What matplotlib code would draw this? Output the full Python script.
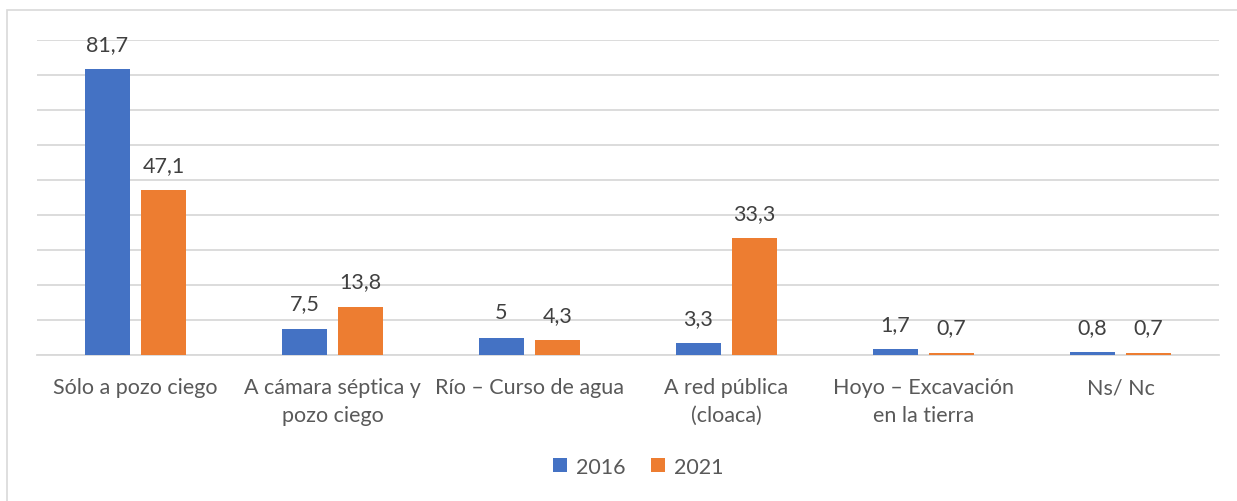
import matplotlib.pyplot as plt
import numpy as np
from matplotlib.patches import Rectangle

categorias = ["Sólo a pozo ciego", "A cámara séptica y\npozo ciego", "Río – Curso de agua",
              "A red pública\n(cloaca)", "Hoyo – Excavación\nen la tierra", "Ns/ Nc"]
valores_2016 = [81.7, 7.5, 5, 3.3, 1.7, 0.8]
valores_2021 = [47.1, 13.8, 4.3, 33.3, 0.7, 0.7]
etiquetas_2016 = ["81,7", "7,5", "5", "3,3", "1,7", "0,8"]
etiquetas_2021 = ["47,1", "13,8", "4,3", "33,3", "0,7", "0,7"]

plt.rcParams['font.family'] = ['Lato', 'DejaVu Sans']
gris = "#595959"

fig = plt.figure(figsize=(12.37, 5.02), dpi=100)
ax = fig.add_axes([0.0299, 0.2908, 0.9555, 0.6275])

x = np.arange(len(categorias))
ancho = 0.225
desp = 0.142
b1 = ax.bar(x - desp, valores_2016, ancho, color="#4472C4", label="2016", zorder=3)
b2 = ax.bar(x + desp, valores_2021, ancho, color="#ED7D31", label="2021", zorder=3)

# etiquetas de valor encima de cada barra
for barras, etiquetas in ((b1, etiquetas_2016), (b2, etiquetas_2021)):
    for b, t in zip(barras, etiquetas):
        ax.annotate(t, (b.get_x() + b.get_width() / 2, b.get_height()),
                    xytext=(0, 11), textcoords="offset points",
                    ha="center", va="bottom", fontsize=15.5, color="#404040")

ax.set_xlim(-0.5, len(categorias) - 0.5)
ax.set_ylim(0, 90)
ax.set_yticks(np.arange(0, 91, 10))
ax.set_yticklabels([])
ax.yaxis.grid(True, color="#d9d9d9", linewidth=1.3, zorder=0)
ax.tick_params(axis="y", length=0)
ax.tick_params(axis="x", length=0, pad=16, labelsize=15.5, labelcolor=gris)
ax.set_xticks(x)
ax.set_xticklabels(categorias, linespacing=1.5)
for s in ["top", "right", "left"]:
    ax.spines[s].set_visible(False)
ax.spines["bottom"].set_color("#d9d9d9")
ax.spines["bottom"].set_linewidth(1.3)

fig.legend(handles=[b1, b2], labels=["2016", "2021"], loc="center",
           bbox_to_anchor=(0.516, 0.068), ncol=2, frameon=False, fontsize=15.5,
           handlelength=0.65, handleheight=0.65, columnspacing=1.2, handletextpad=0.4,
           labelcolor=gris)

# marco exterior del gráfico
fig.patches.append(Rectangle((7 / 1237, -0.05), 1.05, 1 - 11 / 502 + 0.05,
                             transform=fig.transFigure, fill=False,
                             edgecolor="#d9d9d9", linewidth=1.2))

fig.savefig("out.png", dpi=100)
